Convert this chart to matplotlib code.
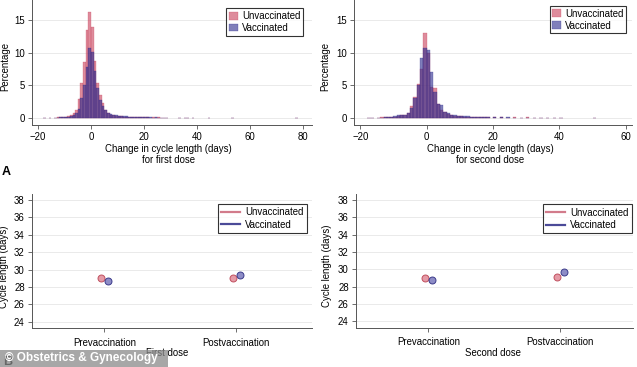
import matplotlib
matplotlib.use("Agg")
import matplotlib.pyplot as plt
from matplotlib.patches import Rectangle
from matplotlib.lines import Line2D

plt.rcParams['font.family'] = ['Liberation Sans', 'DejaVu Sans']

# ---- panel A data: histogram bins (left edges, width 1 day), percentage ----
first_edges = [-18, -16, -14, -13, -12, -11, -10, -9, -8, -7, -6, -5, -4, -3, -2, -1,
               0, 1, 2, 3, 4, 5, 6, 7, 8, 9, 10, 11, 12, 13, 14, 15, 16, 17, 18, 19,
               20, 21, 22, 23, 24, 25, 26, 27, 28, 33, 35, 36, 38, 44, 53, 77]
first_unvacc = [0.05, 0.05, 0.05, 0.1, 0.1, 0.15, 0.2, 0.3, 0.5, 0.7, 1.2, 2.9, 5.3, 8.6, 13.5, 16.3,
                14.0, 8.8, 5.3, 3.5, 2.3, 1.2, 0.8, 0.5, 0.4, 0.3, 0.3, 0.25, 0.2, 0.2, 0.15, 0.15,
                0.1, 0.1, 0.1, 0.1, 0.1, 0.1, 0.05, 0.1, 0.05, 0.1, 0.05, 0.05, 0.05,
                0.05, 0.05, 0.05, 0.05, 0.05, 0.05, 0.05]
first_vacc = [0.03, 0.03, 0.05, 0.05, 0.1, 0.1, 0.15, 0.2, 0.3, 0.5, 0.8, 1.4, 3.0, 5.0, 7.8, 10.8,
              10.2, 7.2, 4.6, 2.8, 1.8, 1.2, 0.8, 0.6, 0.5, 0.4, 0.35, 0.3, 0.25, 0.25, 0.2, 0.2,
              0.15, 0.15, 0.1, 0.1, 0.1, 0.1, 0.1, 0.05, 0.1, 0.05, 0.05, 0.05, 0.05,
              0.05, 0.03, 0.05, 0.03, 0.03, 0.05, 0.05]

second_edges = [-18, -17, -15, -14, -13, -12, -11, -10, -9, -8, -7, -6, -5, -4, -3, -2, -1,
                0, 1, 2, 3, 4, 5, 6, 7, 8, 9, 10, 11, 12, 13, 14, 15, 16, 17, 18,
                20, 22, 24, 26, 28, 30, 32, 34, 36, 38, 40, 50]
second_unvacc = [0.05, 0.05, 0.05, 0.1, 0.1, 0.1, 0.15, 0.2, 0.3, 0.4, 0.5, 0.8, 1.8, 3.2, 5.2, 7.5, 13.0,
                 10.0, 4.7, 4.6, 2.2, 1.2, 1.0, 0.6, 0.4, 0.35, 0.3, 0.25, 0.2, 0.2, 0.15, 0.15, 0.1, 0.1, 0.1, 0.1,
                 0.1, 0.1, 0.05, 0.1, 0.05, 0.1, 0.05, 0.05, 0.05, 0.05, 0.05, 0.05]
second_vacc = [0.03, 0.05, 0.05, 0.05, 0.1, 0.1, 0.2, 0.3, 0.4, 0.4, 0.5, 0.7, 1.5, 3.0, 5.0, 9.2, 10.8,
               10.5, 7.0, 4.0, 2.1, 2.0, 1.0, 0.7, 0.5, 0.4, 0.35, 0.3, 0.25, 0.3, 0.2, 0.15, 0.15, 0.1, 0.1, 0.1,
               0.1, 0.1, 0.1, 0.05, 0.05, 0.05, 0.05, 0.05, 0.05, 0.05, 0.05, 0.05]

# ---- panel B data: mean cycle length (days) ----
periods = ['Prevaccination', 'Postvaccination']
first_unvacc_cycle = [29.05, 29.03]
first_vacc_cycle = [28.7, 29.43]
second_unvacc_cycle = [29.03, 29.1]
second_vacc_cycle = [28.77, 29.72]
ci_half = 0.12

pink = '#c8405a'
navy = '#2b2a8c'
pink_line = '#d27b8b'
navy_line = '#4b4a98'
axis_col = '#555555'
grid_col = '#e6e6e6'
fs = 6.9

W, H = 637, 367
fig = plt.figure(figsize=(W / 100, H / 100), dpi=100)


def px_axes(left, top, right, bottom):
    return fig.add_axes([left / W, 1 - bottom / H, (right - left) / W, (bottom - top) / H])


def style(ax):
    for s in ['top', 'right']:
        ax.spines[s].set_visible(False)
    for s in ['left', 'bottom']:
        ax.spines[s].set_color(axis_col)
        ax.spines[s].set_linewidth(0.7)
    ax.tick_params(colors=axis_col, labelcolor='black', labelsize=fs, length=3, width=0.6, pad=2)
    ax.yaxis.grid(True, color=grid_col, linewidth=0.6)
    ax.set_axisbelow(True)


def hist_panel(ax, edges, unv, vac, xlim, xticks, label, lx, ylx):
    style(ax)
    ax.bar(edges, unv, width=1, align='edge', color=pink, alpha=0.6,
           edgecolor=pink, linewidth=0.3, label='Unvaccinated')
    ax.bar(edges, vac, width=1, align='edge', color=navy, alpha=0.6,
           edgecolor=navy, linewidth=0.3, label='Vaccinated')
    ax.set_xlim(*xlim)
    ax.set_ylim(-1.07, 18.1)
    ax.set_xticks(xticks)
    ax.set_yticks([0, 5, 10, 15])
    ax.set_ylabel('Percentage', fontsize=fs)
    ax.set_xlabel(label, fontsize=fs, linespacing=1.15)
    ax.xaxis.set_label_coords(lx, -0.15)
    ax.yaxis.set_label_coords(ylx, 0.47)


ax1 = px_axes(32, 0, 312, 125)
hist_panel(ax1, first_edges, first_unvacc, first_vacc, (-22.3, 83.4),
           [-20, 0, 20, 40, 60, 80], 'Change in cycle length (days)\nfor first dose', 0.486, -0.078)
ax1.legend(loc='upper right', bbox_to_anchor=(0.968, 0.936), fontsize=fs, frameon=True,
           fancybox=False, edgecolor='black', borderaxespad=0, handlelength=0.9,
           handleheight=0.9, handletextpad=0.4, borderpad=0.3, labelspacing=0.2).get_frame().set_linewidth(0.8)

ax2 = px_axes(354, 0, 632, 125)
hist_panel(ax2, second_edges, second_unvacc, second_vacc, (-21.9, 61.9),
           [-20, 0, 20, 40, 60], 'Change in cycle length (days)\nfor second dose', 0.489, -0.085)
ax2.legend(loc='upper right', bbox_to_anchor=(0.979, 0.954), fontsize=fs, frameon=True,
           fancybox=False, edgecolor='black', borderaxespad=0, handlelength=0.9,
           handleheight=0.9, handletextpad=0.4, borderpad=0.3, labelspacing=0.2).get_frame().set_linewidth(0.8)


def dot_panel(ax, unv, vac, xlim, label, lx, ylx, leg_anchor):
    style(ax)
    x = [1, 2]
    dodge = 0.028
    ax.errorbar([v - dodge for v in x], unv, yerr=ci_half, fmt='o', ms=5,
                mfc='#e59aa6', mec='#c0505f', mew=0.7, ecolor='#c0505f',
                elinewidth=0.6, capsize=1.2)
    ax.errorbar([v + dodge for v in x], vac, yerr=ci_half, fmt='o', ms=5,
                mfc='#8d8cc6', mec='#3b3a8a', mew=0.7, ecolor='#3b3a8a',
                elinewidth=0.6, capsize=1.2)
    ax.set_xlim(*xlim)
    ax.set_ylim(23.25, 38.7)
    ax.set_xticks(x)
    ax.set_xticklabels(periods)
    ax.tick_params(axis='x', pad=4)
    ax.set_yticks(range(24, 39, 2))
    ax.set_ylabel('Cycle length (days)', fontsize=fs)
    ax.set_xlabel(label, fontsize=fs)
    ax.xaxis.set_label_coords(lx, -0.15)
    ax.yaxis.set_label_coords(ylx, 0.46)
    handles = [Line2D([], [], color=pink_line, lw=1.6), Line2D([], [], color=navy_line, lw=1.6)]
    leg = ax.legend(handles, ['Unvaccinated', 'Vaccinated'], loc='upper right',
                    bbox_to_anchor=leg_anchor, fontsize=fs, frameon=True, fancybox=False,
                    edgecolor='black', borderaxespad=0, handlelength=2.0,
                    handletextpad=0.5, borderpad=0.35, labelspacing=0.25)
    leg.get_frame().set_linewidth(0.8)


ax3 = px_axes(31.7, 194, 311.7, 328.3)
dot_panel(ax3, first_unvacc_cycle, first_vacc_cycle, (0.45, 2.57), 'First dose', 0.483, -0.08, (0.983, 0.925))

ax4 = px_axes(355.7, 194, 633, 327.7)
dot_panel(ax4, second_unvacc_cycle, second_vacc_cycle, (0.45, 2.55), 'Second dose', 0.496, -0.085, (0.996, 0.923))

fig.text(2 / W, 1 - 172 / H, 'A', fontsize=9, fontweight='bold', va='center', ha='left')
fig.text(3 / W, 1 - 362 / H, 'B', fontsize=9, fontweight='bold', va='center', ha='left')

# watermark
fig.patches.append(Rectangle((0, 0), 168 / W, 17 / H, transform=fig.transFigure,
                             facecolor='#8a8a8a', alpha=0.75, edgecolor='none', zorder=5))
fig.text(5 / W, 1 - 358 / H, '\u00a9 Obstetrics & Gynecology', fontsize=8.5,
         fontweight='bold', color='white', va='center', ha='left', zorder=6)

fig.savefig('out.png', dpi=100)
